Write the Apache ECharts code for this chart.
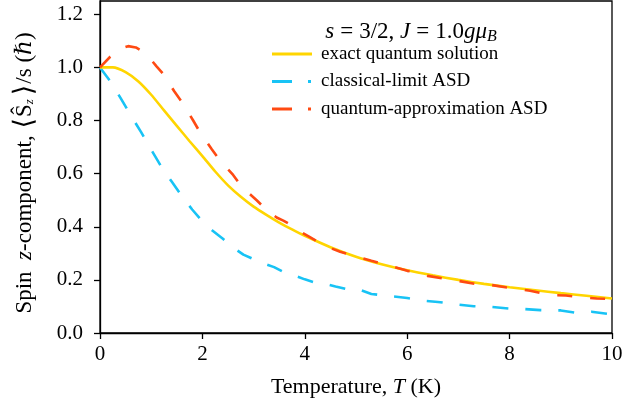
<!DOCTYPE html>
<html>
<head>
<meta charset="utf-8">
<script src="https://cdn.jsdelivr.net/npm/echarts@6/dist/echarts.min.js"></script>
<style>html,body{margin:0;padding:0;background:#fff}#c{width:644px;height:411px}</style>
</head>
<body>
<div id="c"></div>
<script>
// Temperature samples (K) and normalized spin z-component for each curve
const exactT = [0, 0.25, 0.5, 0.75, 1.0, 1.25, 1.5, 1.75, 2.0, 2.25, 2.5, 2.75, 3.0, 3.25, 3.5, 3.75, 4.0, 4.5, 5.0, 5.5, 6.0, 6.5, 7.0, 7.5, 8.0, 8.5, 9.0, 9.5, 10.0];
const exactS = [1.0, 1.0, 0.982, 0.947, 0.897, 0.838, 0.78, 0.722, 0.666, 0.608, 0.556, 0.513, 0.476, 0.445, 0.416, 0.39, 0.366, 0.323, 0.287, 0.259, 0.236, 0.217, 0.2, 0.185, 0.172, 0.161, 0.15, 0.14, 0.13];

const classicalT = [0, 0.2, 0.4, 0.6, 0.8, 1.0, 1.2, 1.4, 1.6, 1.8, 2.0, 2.2, 2.4, 2.6, 2.8, 3.0, 3.2, 3.4, 3.6, 3.8, 4.0, 4.2, 4.4, 4.6, 4.8, 5.0, 5.3, 5.6, 6.0, 6.3, 6.6, 7.0, 7.3, 7.6, 8.0, 8.3, 8.6, 9.0, 9.3, 9.6, 10.0];
const classicalS = [1.0, 0.948, 0.885, 0.82, 0.757, 0.69, 0.625, 0.57, 0.515, 0.465, 0.42, 0.385, 0.355, 0.322, 0.295, 0.278, 0.262, 0.248, 0.228, 0.216, 0.202, 0.19, 0.185, 0.175, 0.166, 0.168, 0.147, 0.14, 0.132, 0.122, 0.117, 0.107, 0.101, 0.099, 0.092, 0.09, 0.086, 0.085, 0.076, 0.08, 0.07];

const quantumT = [0, 0.2, 0.4, 0.55, 0.7, 0.85, 1.0, 1.1, 1.25, 1.45, 1.65, 1.82, 1.95, 2.18, 2.35, 2.6, 2.77, 3.06, 3.26, 3.45, 3.58, 3.7, 3.81, 4.1, 4.33, 4.5, 4.69, 4.98, 5.3, 5.6, 5.9, 6.0, 6.1, 6.4, 6.7, 7.0, 7.36, 7.5, 7.6, 8.07, 8.4, 8.79, 9.1, 9.44, 9.7, 10.0];
const quantumS = [1.0, 1.04, 1.07, 1.08, 1.075, 1.058, 1.028, 1.005, 0.972, 0.91, 0.855, 0.8, 0.757, 0.693, 0.648, 0.595, 0.55, 0.5, 0.462, 0.435, 0.423, 0.41, 0.393, 0.361, 0.334, 0.32, 0.306, 0.29, 0.272, 0.256, 0.24, 0.234, 0.232, 0.215, 0.205, 0.196, 0.184, 0.186, 0.182, 0.168, 0.159, 0.143, 0.141, 0.134, 0.13, 0.128];

const seriesNames = ['exact quantum solution', 'classical-limit ASD', 'quantum-approximation ASD'];
const xTicks = [0, 2, 4, 6, 8, 10];
const yTicks = [0, 0.2, 0.4, 0.6, 0.8, 1.0, 1.2];

const FONT = '"Liberation Serif", "DejaVu Serif", serif';
const zip = (a, b) => a.map((v, i) => [v, b[i]]);
const rs = (size, italic, extra) => Object.assign({fontFamily: FONT, fontSize: size, fontStyle: italic ? 'italic' : 'normal', fontWeight: 'normal', color: '#000'}, extra || {});

const chart = echarts.init(document.getElementById('c'), null, {renderer: 'canvas'});
chart.setOption({
  animation: false,
  backgroundColor: '#fff',
  textStyle: {fontFamily: FONT, color: '#000'},
  grid: {left: 100, right: 32, top: 1, bottom: 78, containLabel: false, outerBoundsMode: 'none', show: true, borderColor: '#000', borderWidth: 1.3, backgroundColor: 'transparent'},
  title: {
    text: '{i|s}{e|=}{r|3/2, }{i|J}{e|=}{r|1.0}{i|gμ}{sub|B}',
    left: 406, top: 13, textAlign: 'center',
    textStyle: {
      fontWeight: 'normal',
      rich: {
        i: rs(23, true),
        r: rs(23, false),
        e: rs(23, false, {padding: [0, 6, 0, 6]}),
        sub: rs(16, true, {padding: [11, 0, 0, 0]})
      }
    }
  },
  legend: {
    left: 267, top: 39, orient: 'vertical',
    itemWidth: 40, itemHeight: 3, itemGap: 7.5,
    textStyle: {fontFamily: FONT, fontSize: 19, color: '#000', padding: [0, 0, 0, 4], lineHeight: 20},
    data: [
      {name: seriesNames[0], icon: 'path://M0,0H40V3H0Z'},
      {name: seriesNames[1], icon: 'path://M0,0H20V3H0Z M36,0H39V3H36Z M40,1.5L40,1.5'},
      {name: seriesNames[2], icon: 'path://M0,0H20V3H0Z M36,0H39V3H36Z M40,1.5L40,1.5'}
    ]
  },
  xAxis: {
    type: 'value', min: 0, max: 10, interval: 2,
    name: '{r|Temperature, }{i|T}{r| (K)}', nameLocation: 'middle', nameGap: 43,
    nameTextStyle: {rich: {r: rs(22, false), i: rs(22, true)}},
    axisLine: {lineStyle: {color: '#000', width: 1.3}},
    axisTick: {show: true, length: 6, lineStyle: {color: '#000', width: 1.3}, customValues: xTicks},
    axisLabel: {fontFamily: FONT, fontSize: 21, color: '#000', margin: 11, customValues: xTicks, formatter: v => String(v)},
    splitLine: {show: false}
  },
  yAxis: {
    type: 'value', min: 0, max: 1.25, interval: 0.2,
    name: '{r|Spin  }{i|z}{r|-component, }{b|⟨}{r|Ŝ}{sub|z}{b|⟩}{r|/}{r|s }{r|(}{i|ℏ}{e|)}',
    nameLocation: 'middle', nameRotate: 90, nameGap: 62,
    nameTextStyle: {rich: {
      r: rs(23, false),
      i: rs(23, true),
      e: rs(23, false, {padding: [0, 12, 0, 0]}),
      b: rs(27, false, {fontFamily: '"DejaVu Serif", serif', padding: [0, 1, 0, 1]}),
      sub: rs(13, true, {padding: [10, 3, 0, 0]})
    }},
    axisLine: {show: true, lineStyle: {color: '#000', width: 1.3}},
    axisTick: {show: true, length: 6, lineStyle: {color: '#000', width: 1.3}, customValues: yTicks},
    axisLabel: {fontFamily: FONT, fontSize: 21, color: '#000', margin: 17, customValues: yTicks, formatter: v => v.toFixed(1)},
    splitLine: {show: false}
  },
  series: [
    {name: seriesNames[0], type: 'line', data: zip(exactT, exactS), smooth: 0.25, showSymbol: false, symbol: 'none', color: '#FFD500', lineStyle: {width: 2.6, color: '#FFD500'}, z: 3},
    {name: seriesNames[1], type: 'line', data: zip(classicalT, classicalS), showSymbol: false, symbol: 'none', color: '#18C3F5', lineStyle: {width: 2.6, color: '#18C3F5', type: [16, 17]}, z: 2},
    {name: seriesNames[2], type: 'line', data: zip(quantumT, quantumS), showSymbol: false, symbol: 'none', color: '#FF4A12', lineStyle: {width: 2.6, color: '#FF4A12', type: [15, 18]}, z: 4}
  ]
});
</script>
</body>
</html>
